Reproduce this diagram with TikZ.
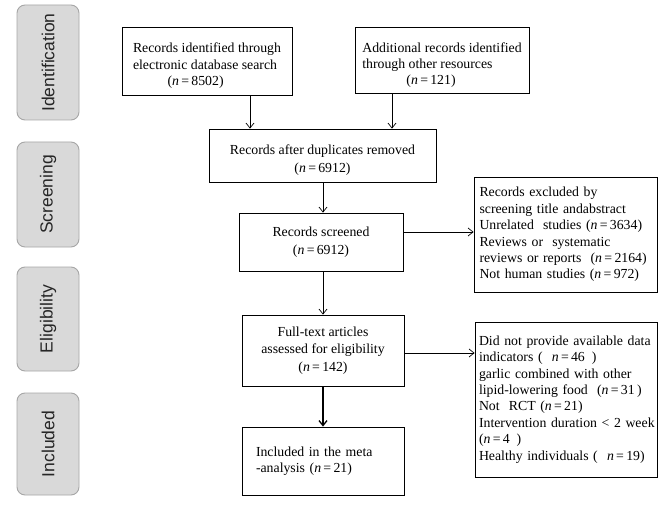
\documentclass[tikz,border=0pt]{standalone}
\usepackage{fontspec}
\setmainfont{Liberation Serif}
\newfontfamily\sidefont{Liberation Sans}
\usetikzlibrary{arrows.meta}

\newcommand{\nval}[1]{(\textit{n}\,=\,#1)}
\newcommand{\topgap}{\rule{0pt}{19pt}}

\begin{document}
\begin{tikzpicture}[x=1pt, y=-1pt,
    >={Straight Barb[length=5pt, width=8pt]},
    stage/.style={draw=black!35, fill=black!15, rounded corners=8pt, line width=0.9pt,
        minimum height=62pt, rotate=90, inner sep=0pt,
        font=\sidefont\fontsize{17.5}{20}\selectfont, text=black!85},
    box/.style={draw, line width=0.8pt, inner sep=0pt,
        font=\fontsize{13.8}{16.4}\selectfont},
    leftbox/.style={box, align=left, inner xsep=8pt},
    link/.style={->, line width=0.7pt}]
    \useasboundingbox (0,0) rectangle (669,505);

    % stages
    \node[stage, minimum width=115pt] (ident) at (48,62.5) {Identification};
    \node[stage, minimum width=105pt] (screen) at (48,194.5) {Screening};
    \node[stage, minimum width=104pt] (elig) at (48,319) {Eligibility};
    \node[stage, minimum width=102pt] (incl) at (48,444) {Included};

    % boxes
    \node[box, minimum width=170pt, minimum height=68pt, align=left] (dbrec) at (207,61)
        {\topgap Records identified through\\electronic database search\\\hspace*{2.5em}\nval{8502}};
    \node[box, minimum width=174pt, minimum height=66pt, align=left] (otherrec) at (442,60.5)
        {\topgap Additional records identified\\through other resources\\\hspace*{3.2em}\nval{121}};
    \node[box, minimum width=227pt, minimum height=53pt, align=center] (dupl) at (322.5,155.5)
        {\topgap Records after duplicates removed\\[1pt]\nval{6912}};
    \node[box, minimum width=164pt, minimum height=58pt, align=center] (screened) at (321,242)
        {Records screened\\[1pt]\nval{6912}};
    \node[box, minimum width=162pt, minimum height=71pt, align=center] (fulltext) at (323,350.5)
        {Full-text articles\\[1pt]assessed for eligibility\\[1pt]\nval{142}};
    \node[leftbox, minimum width=162pt, minimum height=68pt, text width=134pt, inner xsep=13pt] (meta) at (323,461)
        {Included in the meta\\-analysis \nval{21}\\[6pt]};
    \node[leftbox, minimum width=183pt, minimum height=115pt, text width=172pt, inner xsep=5pt] (excl1) at (565.5,234.5)
        {Records excluded by\\
         screening title andabstract\\
         Unrelated\ \ studies \nval{3634}\\
         Reviews or\ \ systematic\\
         reviews or reports\ \ \nval{2164}\\
         Not human studies \nval{972}};
    \node[leftbox, minimum width=182pt, minimum height=155pt, text width=174pt, inner xsep=4pt] (excl2) at (566,399.5)
        {Did not provide available data\\
         indicators (\ \ \textit{n}\,=\,46\ \,)\\
         garlic combined with other\\
         lipid-lowering food\ \ \nval{31\,}\\
         Not\ \ RCT \nval{21}\\
         \mbox{Intervention duration < 2 week}\\
         (\textit{n}\,=\,4\ \,)\\
         Healthy individuals (\ \ \textit{n}\,=\,19)};

    % connectors
    \draw[link] ([xshift=43pt]dbrec.south) -- ([xshift=43pt]dbrec.south |- dupl.north);
    \draw[link] ([xshift=-50pt]otherrec.south) -- ([xshift=-50pt]otherrec.south |- dupl.north);
    \draw[link] ([xshift=2pt]screened.north |- dupl.south) -- ([xshift=2pt]screened.north);
    \draw[link] ([yshift=10pt]screened.east) -- ([yshift=10pt]screened.east -| excl1.west);
    \draw[link] ([xshift=2pt]screened.south) -- ([xshift=2pt]screened.south |- fulltext.north);
    \draw[link] ([yshift=-2.5pt]fulltext.east) -- ([yshift=-2.5pt]fulltext.east -| excl2.west);
    \draw[link, line width=1.3pt] (fulltext.south) -- (meta.north);
\end{tikzpicture}
\end{document}
